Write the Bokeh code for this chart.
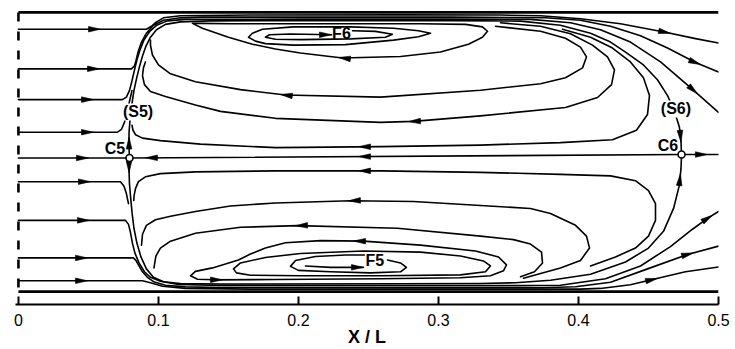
import math
from bokeh.plotting import figure
from bokeh.models import Range1d, FixedTicker, Label
from bokeh.embed import file_html
from bokeh.resources import INLINE

# ---------------- data (coordinates in X/L, Y/L) ----------------
X_TICKS = [0.0, 0.1, 0.2, 0.3, 0.4, 0.5]
X_TICK_LABELS = ["0", "0.1", "0.2", "0.3", "0.4", "0.5"]
X_TITLE = "X / L"

WALL_X = [0.0, 0.5]
TOP_WALL_Y = [0.1050, 0.1050]
BOTTOM_WALL_Y = [-0.0964, -0.0964]
INLET_X = [0.0, 0.0]
INLET_Y = [0.1050, -0.0964]

CENTER_X = [0.0, 0.0793, 0.4736, 0.5]
CENTER_Y = [0.0, 0.0, 0.0025, 0.0025]

# upper inflow streamlines
A_X = [0.0, 0.0914, 0.0950, 0.0986, 0.1036, 0.1157, 0.1657, 0.2729, 0.3443, 0.3729, 0.4014, 0.4300, 0.4621, 0.4836, 0.5]
A_Y = [0.0929, 0.0929, 0.0950, 0.0982, 0.1011, 0.1026, 0.1031, 0.1032, 0.1031, 0.1026, 0.1004, 0.0968, 0.0907, 0.0861, 0.0829]
B_X = [0.0, 0.0807, 0.0829, 0.0839, 0.0854, 0.0879, 0.0914, 0.0964, 0.1036, 0.1157, 0.1300, 0.2014, 0.3086, 0.3764, 0.4014, 0.4229, 0.4443, 0.4636, 0.4836, 0.5]
B_Y = [0.0643, 0.0643, 0.0664, 0.0700, 0.0764, 0.0836, 0.0900, 0.0957, 0.0993, 0.1011, 0.1016, 0.1016, 0.1016, 0.1012, 0.0993, 0.0950, 0.0882, 0.0793, 0.0689, 0.0621]
C_X = [0.0, 0.0743, 0.0771, 0.0793, 0.0811, 0.0829, 0.0846, 0.0868, 0.0896, 0.0936, 0.0986, 0.1064, 0.1193, 0.2014, 0.3086, 0.3657, 0.3943, 0.4157, 0.4371, 0.4586, 0.4800, 0.5]
C_Y = [0.0421, 0.0421, 0.0439, 0.0486, 0.0557, 0.0636, 0.0707, 0.0779, 0.0850, 0.0911, 0.0957, 0.0989, 0.1000, 0.1002, 0.1002, 0.1000, 0.0975, 0.0925, 0.0836, 0.0693, 0.0507, 0.0329]
D_X = [0.0, 0.0707, 0.0736, 0.0757, 0.0775, 0.0793, 0.0811]
D_Y = [0.0186, 0.0186, 0.0207, 0.0257, 0.0329, 0.0407, 0.0486]

# separatrix C5 -> (S5) -> top -> (S6) -> C6
S5_X = [0.0793, 0.0789, 0.0790, 0.0796, 0.0804, 0.0814, 0.0825, 0.0843, 0.0864, 0.0886, 0.0911, 0.0943, 0.0986, 0.1050, 0.1157,
        0.1371, 0.2014, 0.3086, 0.3586, 0.3871, 0.4086, 0.4229, 0.4336, 0.4464, 0.4564, 0.4636, 0.4686, 0.4721, 0.4732, 0.4736]
S5_Y = [0.0, 0.0100, 0.0186, 0.0264, 0.0336, 0.0414, 0.0486, 0.0571, 0.0657, 0.0736, 0.0807, 0.0871, 0.0925, 0.0964, 0.0982,
        0.0989, 0.0991, 0.0991, 0.0987, 0.0957, 0.0900, 0.0836, 0.0764, 0.0671, 0.0564, 0.0450, 0.0336, 0.0221, 0.0121, 0.0025]

# upper recirculation
U5_X = [0.3886, 0.4086, 0.4243, 0.4371, 0.4464, 0.4507, 0.4493, 0.4414, 0.4243, 0.3871, 0.3300, 0.2586, 0.1836, 0.1300, 0.1014, 0.0886, 0.0836, 0.0818, 0.0811]
U5_Y = [0.0929, 0.0871, 0.0793, 0.0693, 0.0579, 0.0450, 0.0314, 0.0200, 0.0132, 0.0111, 0.0093, 0.0082, 0.0075, 0.0100, 0.0125, 0.0143, 0.0168, 0.0200, 0.0236]
U4_X = [0.3443, 0.3729, 0.3943, 0.4100, 0.4207, 0.4257, 0.4236, 0.4136, 0.3907, 0.3300, 0.2821, 0.2586, 0.1836, 0.1443, 0.1264, 0.1050, 0.0943, 0.0900, 0.0886, 0.0893, 0.0907]
U4_Y = [0.0975, 0.0950, 0.0896, 0.0814, 0.0729, 0.0636, 0.0529, 0.0436, 0.0364, 0.0304, 0.0264, 0.0257, 0.0286, 0.0336, 0.0382, 0.0443, 0.0479, 0.0529, 0.0593, 0.0650, 0.0693]
U3_X = [0.3407, 0.3729, 0.3907, 0.4014, 0.4057, 0.4029, 0.3907, 0.3729, 0.3300, 0.2586, 0.1907, 0.1586, 0.1264, 0.1086, 0.1000, 0.0957, 0.0943, 0.0943]
U3_Y = [0.0950, 0.0914, 0.0864, 0.0800, 0.0729, 0.0650, 0.0579, 0.0536, 0.0489, 0.0439, 0.0454, 0.0493, 0.0550, 0.0607, 0.0671, 0.0743, 0.0814, 0.0850]
U2_X = [0.1243, 0.1314, 0.1500, 0.1671, 0.1836, 0.2014, 0.2314, 0.2729, 0.3014, 0.3214, 0.3314, 0.3350, 0.3314, 0.3193, 0.2871, 0.2014, 0.1514, 0.1300, 0.1243]
U2_Y = [0.0971, 0.0936, 0.0871, 0.0821, 0.0786, 0.0757, 0.0721, 0.0732, 0.0764, 0.0821, 0.0871, 0.0914, 0.0946, 0.0964, 0.0968, 0.0968, 0.0968, 0.0971, 0.0971]
U1_X = [0.1643, 0.1671, 0.1743, 0.1964, 0.2371, 0.2679, 0.2857, 0.2943, 0.2857, 0.2679, 0.2336, 0.1964, 0.1764, 0.1693, 0.1643]
U1_Y = [0.0871, 0.0900, 0.0929, 0.0946, 0.0946, 0.0936, 0.0918, 0.0900, 0.0875, 0.0850, 0.0818, 0.0814, 0.0825, 0.0843, 0.0871]
U0_X = [0.2386, 0.2550, 0.2671, 0.2621, 0.2371, 0.2014, 0.1836, 0.1764, 0.1793, 0.1943, 0.2236]
U0_Y = [0.0918, 0.0913, 0.0893, 0.0871, 0.0859, 0.0854, 0.0857, 0.0871, 0.0889, 0.0894, 0.0889]

# lower inflow streamlines
E_X = [0.0, 0.0729, 0.0754, 0.0771, 0.0786]
E_Y = [-0.0171, -0.0171, -0.0204, -0.0257, -0.0329]
S5L_X = [0.0793, 0.0790, 0.0793, 0.0802, 0.0812, 0.0825, 0.0846, 0.0875, 0.0914, 0.0964, 0.1036, 0.1157, 0.1443,
         0.2729, 0.3300, 0.3550, 0.3800, 0.4086, 0.4336, 0.4500, 0.4607, 0.4679, 0.4718, 0.4732, 0.4736]
S5L_Y = [0.0, -0.0093, -0.0186, -0.0293, -0.0400, -0.0507, -0.0614, -0.0714, -0.0800, -0.0861, -0.0893, -0.0906, -0.0909,
         -0.0907, -0.0906, -0.0900, -0.0882, -0.0839, -0.0750, -0.0650, -0.0529, -0.0364, -0.0207, -0.0079, 0.0025]
F_X = [0.0, 0.0764, 0.0786, 0.0800, 0.0814, 0.0832, 0.0861, 0.0900, 0.0943, 0.1014, 0.1143, 0.1443, 0.2729, 0.3586, 0.3871, 0.4193, 0.4443, 0.4657, 0.4814, 0.4921, 0.5]
F_Y = [-0.0450, -0.0450, -0.0479, -0.0536, -0.0614, -0.0686, -0.0757, -0.0821, -0.0861, -0.0889, -0.0913, -0.0919, -0.0921, -0.0921, -0.0918, -0.0871, -0.0779, -0.0639, -0.0514, -0.0436, -0.0386]
G_X = [0.0, 0.0821, 0.0839, 0.0857, 0.0886, 0.0921, 0.0971, 0.1050, 0.1193, 0.1443, 0.2729, 0.3729, 0.3979, 0.4229, 0.4493, 0.4779, 0.5]
G_Y = [-0.0721, -0.0721, -0.0739, -0.0771, -0.0821, -0.0861, -0.0895, -0.0918, -0.0930, -0.0934, -0.0936, -0.0936, -0.0929, -0.0896, -0.0800, -0.0696, -0.0636]
H_X = [0.0, 0.0886, 0.0943, 0.1029, 0.1193, 0.1657, 0.2729, 0.4014, 0.4157, 0.4371, 0.4536, 0.4764, 0.5]
H_Y = [-0.0886, -0.0886, -0.0900, -0.0925, -0.0941, -0.0946, -0.0946, -0.0946, -0.0941, -0.0914, -0.0875, -0.0821, -0.0786]

# lower recirculation
L5_X = [0.4086, 0.4264, 0.4407, 0.4500, 0.4550, 0.4550, 0.4500, 0.4407, 0.4229, 0.3871, 0.3300, 0.2586, 0.1836, 0.1264, 0.1014, 0.0907, 0.0857, 0.0836, 0.0826, 0.0824]
L5_Y = [-0.0779, -0.0714, -0.0650, -0.0564, -0.0450, -0.0329, -0.0236, -0.0164, -0.0129, -0.0118, -0.0104, -0.0093, -0.0093, -0.0100, -0.0113, -0.0136, -0.0171, -0.0221, -0.0271, -0.0307]
L4_X = [0.3607, 0.3871, 0.4014, 0.4079, 0.4057, 0.3979, 0.3800, 0.3657, 0.3300, 0.2821, 0.2371, 0.1836, 0.1514, 0.1264, 0.1086, 0.0979, 0.0914, 0.0886, 0.0879]
L4_Y = [-0.0868, -0.0793, -0.0739, -0.0650, -0.0564, -0.0486, -0.0400, -0.0364, -0.0343, -0.0314, -0.0309, -0.0325, -0.0346, -0.0386, -0.0421, -0.0446, -0.0486, -0.0550, -0.0629]
L3_X = [0.3586, 0.3686, 0.3743, 0.3736, 0.3657, 0.3536, 0.3300, 0.2707, 0.1993, 0.1586, 0.1264, 0.1086, 0.1014, 0.0982, 0.0968]
L3_Y = [-0.0857, -0.0821, -0.0757, -0.0679, -0.0621, -0.0589, -0.0564, -0.0507, -0.0488, -0.0500, -0.0543, -0.0600, -0.0650, -0.0707, -0.0793]
L2_X = [0.1393, 0.1836, 0.2586, 0.3157, 0.3371, 0.3464, 0.3486, 0.3429, 0.3264, 0.2871, 0.2464, 0.2157, 0.1907, 0.1764, 0.1657, 0.1571, 0.1386, 0.1264, 0.1229, 0.1279, 0.1393]
L2_Y = [-0.0879, -0.0877, -0.0871, -0.0864, -0.0850, -0.0814, -0.0771, -0.0714, -0.0671, -0.0629, -0.0600, -0.0596, -0.0611, -0.0650, -0.0693, -0.0736, -0.0793, -0.0818, -0.0850, -0.0875, -0.0879]
L1_X = [0.1536, 0.1586, 0.1764, 0.2014, 0.2464, 0.2871, 0.3157, 0.3321, 0.3371, 0.3336, 0.3157, 0.2586, 0.2014, 0.1657, 0.1557, 0.1536]
L1_Y = [-0.0800, -0.0757, -0.0718, -0.0689, -0.0671, -0.0679, -0.0707, -0.0743, -0.0779, -0.0821, -0.0843, -0.0850, -0.0850, -0.0846, -0.0829, -0.0800]
LF_X = [0.2471, 0.2336, 0.2121, 0.1979, 0.1943, 0.2000, 0.2229, 0.2514, 0.2729, 0.2771, 0.2729, 0.2636]
LF_Y = [-0.0700, -0.0700, -0.0711, -0.0739, -0.0782, -0.0811, -0.0821, -0.0829, -0.0821, -0.0789, -0.0757, -0.0736]
LFA_X = [0.2050, 0.2229, 0.2464]
LFA_Y = [-0.0779, -0.0789, -0.0789]

# arrow heads: tip position and direction (degrees, 0 = +x, 90 = +y)
ARROW_X = [0.0586, 0.0579, 0.0536, 0.0536, 0.0500, 0.0514, 0.0507, 0.0493, 0.0493, 0.0907, 0.2429, 0.4921,
           0.0790, 0.0790, 0.4732, 0.4728, 0.4657, 0.4871, 0.4850, 0.4957, 0.4821, 0.4564, 0.2236, 0.2286,
           0.1871, 0.2786, 0.2429, 0.2429, 0.2357, 0.1979, 0.2393, 0.1457, 0.2464]
ARROW_Y = [0.0929, 0.0643, 0.0421, 0.0186, 0.0, -0.0171, -0.0450, -0.0721, -0.0886, 0.0001, 0.0010, 0.0025,
           0.0150, -0.0107, 0.0114, -0.0114, 0.0899, 0.0674, 0.0463, -0.0413, -0.0685, -0.0869, 0.0889, 0.0725,
           0.0458, 0.0263, 0.0081, -0.0093, -0.0309, -0.0489, -0.0599, -0.0879, -0.0789]
ARROW_ANGLE = [0, 0, 0, 0, 0, 0, 0, 0, 0, 180, 180, 0,
               90, -90, -85, 84, -12, -22, -42, 33, 15, 13, 0, 173,
               173, 182, 180, 180, 182, 182, 179, 0, 0]

# critical points C5, C6
CP_X = [0.0793, 0.4736]
CP_Y = [0.0, 0.0025]

LABEL_TEXT = ["C5", "(S5)", "F6", "F5", "(S6)", "C6"]
LABEL_X = [0.0689, 0.0854, 0.2307, 0.2546, 0.4696, 0.4639]
LABEL_Y = [0.0071, 0.0332, 0.0900, -0.0743, 0.0354, 0.0089]
LABEL_BG = [False, True, False, False, True, False]

# ---------------- layout ----------------
W, H = 735, 349
BL, BR, BT, BB = 15, 17, 0, 42
X0, X1 = -0.0021, 0.5
Y0, Y1 = -0.1057, 0.1136
SX = (W - BL - BR) / (X1 - X0)
SY = (H - BT - BB) / (Y1 - Y0)
FONT = "Liberation Sans"

p = figure(width=W, height=H, x_range=Range1d(X0, X1), y_range=Range1d(Y0, Y1),
           output_backend="svg", toolbar_location=None, y_axis_location=None,
           min_border_left=BL, min_border_right=BR, min_border_top=BT, min_border_bottom=BB)
p.outline_line_color = None
p.grid.visible = False
p.background_fill_color = "white"
p.border_fill_color = "white"

ax = p.xaxis[0]
ax.ticker = FixedTicker(ticks=X_TICKS)
ax.major_label_overrides = {t: s for t, s in zip(X_TICKS, X_TICK_LABELS)}
ax.axis_label = X_TITLE
ax.axis_label_text_font = FONT
ax.axis_label_text_font_style = "bold"
ax.axis_label_text_font_size = "18px"
ax.axis_label_text_color = "black"
ax.axis_label_standoff = -2
ax.major_label_text_font = FONT
ax.major_label_text_font_size = "16px"
ax.major_label_text_color = "black"
ax.major_label_standoff = 9
ax.major_tick_in = 8
ax.major_tick_out = 0
ax.minor_tick_line_color = None
ax.axis_line_width = 2
ax.major_tick_line_width = 2
ax.axis_line_color = "black"
ax.major_tick_line_color = "black"

lines_x = [A_X, B_X, C_X, D_X, S5_X, U5_X, U4_X, U3_X, U2_X, U1_X, U0_X, CENTER_X,
           E_X, S5L_X, F_X, G_X, H_X, L5_X, L4_X, L3_X, L2_X, L1_X, LF_X, LFA_X]
lines_y = [A_Y, B_Y, C_Y, D_Y, S5_Y, U5_Y, U4_Y, U3_Y, U2_Y, U1_Y, U0_Y, CENTER_Y,
           E_Y, S5L_Y, F_Y, G_Y, H_Y, L5_Y, L4_Y, L3_Y, L2_Y, L1_Y, LF_Y, LFA_Y]
p.multi_line(xs=lines_x, ys=lines_y, line_color="black", line_width=1.6,
             line_join="round", line_cap="round")

# walls and inlet
p.line(WALL_X, TOP_WALL_Y, line_color="black", line_width=2.6)
p.line(WALL_X, BOTTOM_WALL_Y, line_color="black", line_width=2.6)
p.line(INLET_X, INLET_Y, line_color="black", line_width=2.6, line_dash="9 10")

# arrow heads (slender filled triangles, drawn in screen proportions)
HEAD_L, HEAD_W = 12.0, 2.8
hx, hy = [], []
for xt, yt, ang in zip(ARROW_X, ARROW_Y, ARROW_ANGLE):
    a = math.radians(ang)
    ux, uy = math.cos(a), math.sin(a)
    nx, ny = -uy, ux
    pts = [(0.0, 0.0),
           (-HEAD_L * ux + HEAD_W * nx, -HEAD_L * uy + HEAD_W * ny),
           (-HEAD_L * ux - HEAD_W * nx, -HEAD_L * uy - HEAD_W * ny)]
    hx.append([xt + dx / SX for dx, dy in pts])
    hy.append([yt + dy / SY for dx, dy in pts])
p.patches(hx, hy, fill_color="black", line_color="black", line_width=0.6, line_join="round")

# critical points
p.scatter(CP_X, CP_Y, marker="circle", size=7, fill_color="white", line_color="black", line_width=1.6)

for txt, lx, ly, bg in zip(LABEL_TEXT, LABEL_X, LABEL_Y, LABEL_BG):
    lab = Label(x=lx, y=ly, text=txt, text_font=FONT, text_font_style="bold",
                text_font_size="16px", text_color="black",
                text_align="center", text_baseline="middle")
    if bg:
        lab.background_fill_color = "white"
        lab.background_fill_alpha = 1.0
    p.add_layout(lab)

open("out.html", "w").write(file_html(p, INLINE))
